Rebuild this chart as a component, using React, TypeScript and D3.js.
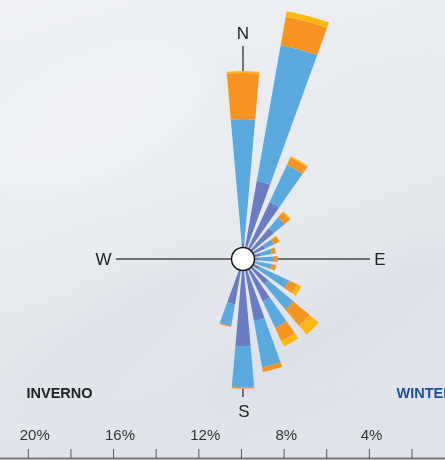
import React from "react";
import * as d3 from "d3";

// Wind rose data (% frequency), 24 directions every 15°
const directions = [0, 15, 30, 45, 60, 75, 90, 105, 120, 135, 150, 165, 180, 195, 210, 225, 240, 255, 270, 285, 300, 315, 330, 345];
const speedClass1 = [0.75, 3.71, 2.95, 1.88, 1.13, 0.84, 0.75, 0.61, 0.84, 1.55, 2.2, 2.95, 4.08, 2.16, 0, 0, 0, 0, 0, 0, 0, 0, 0, 0];
const speedClass2 = [5.82, 6.47, 1.92, 0.66, 0.47, 0.54, 0.66, 0.75, 1.55, 1.55, 1.36, 2.2, 1.94, 1.03, 0, 0, 0, 0, 0, 0, 0, 0, 0, 0];
const speedClass3 = [2.16, 1.36, 0.38, 0.33, 0.28, 0.19, 0.23, 0.23, 0.42, 0.98, 0.68, 0.23, 0.06, 0.05, 0, 0, 0, 0, 0, 0, 0, 0, 0, 0];
const speedClass4 = [0.09, 0.26, 0.07, 0.05, 0.02, 0, 0, 0, 0.21, 0.56, 0.3, 0, 0, 0, 0, 0, 0, 0, 0, 0, 0, 0, 0, 0];
const seriesKeys = ["c1", "c2", "c3", "c4"];
const seriesColors = ["#6a7cc2", "#5aaae0", "#f6941f", "#fdb813"];

const axisTicks = [20, 18, 16, 14, 12, 10, 8, 6, 4, 2];
const axisLabels = [20, 16, 12, 8, 4];
const compassLabels = ["N", "E", "S", "W"];

const W = 445;
const H = 460;
const cx = 243;
const cy = 259;
const pxPerPct = 21.32;

export default function App() {
  const rows = directions.map((d, i) => ({
    dir: d,
    c1: speedClass1[i],
    c2: speedClass2[i],
    c3: speedClass3[i],
    c4: speedClass4[i],
  }));
  const stacked = d3.stack<any>().keys(seriesKeys)(rows);
  const r = d3.scaleLinear().domain([0, 12]).range([0, 12 * pxPerPct]);
  const halfW = (10 / 2) * (Math.PI / 180);
  const arc = d3.arc<any>();

  // bottom axis: 0% at right
  const x = d3.scaleLinear().domain([20, 2]).range([28.3, 412]);
  const axisY = 458.5;

  return (
    <svg
      width={W}
      height={H}
      style={{ position: "absolute", left: 0, top: 0, display: "block" }}
      fontFamily="'Liberation Sans', Arial, sans-serif"
    >
      <defs>
        <linearGradient id="bg" x1="0" y1="0" x2="0.3" y2="1">
          <stop offset="0" stopColor="#eef0f3" />
          <stop offset="0.5" stopColor="#e8ebef" />
          <stop offset="1" stopColor="#e0e4ea" />
        </linearGradient>
        <filter id="blur" x="-50%" y="-50%" width="200%" height="200%">
          <feGaussianBlur stdDeviation="14" />
        </filter>
      </defs>
      <rect x={0} y={0} width={W} height={H} fill="url(#bg)" />
      <g filter="url(#blur)" opacity={0.55}>
        <ellipse cx={90} cy={120} rx={120} ry={60} fill="#f4f5f7" transform="rotate(-25 90 120)" />
        <ellipse cx={330} cy={330} rx={140} ry={30} fill="#d9dee6" transform="rotate(-30 330 330)" />
        <ellipse cx={120} cy={330} rx={120} ry={25} fill="#dde1e8" transform="rotate(-35 120 330)" />
        <ellipse cx={360} cy={110} rx={90} ry={40} fill="#e6e9ee" transform="rotate(-30 360 110)" />
      </g>

      {/* W-E line */}
      <line x1={116} x2={370} y1={cy} y2={cy} stroke="#6e6e6e" strokeWidth={2} />
      {/* N and S ticks */}
      <line x1={cx} x2={cx} y1={46} y2={cy - r(8.8)} stroke="#222" strokeWidth={1.2} />
      <line x1={cx} x2={cx} y1={cy + r(6.1)} y2={397} stroke="#222" strokeWidth={1.2} />

      {/* rose bars */}
      <g transform={`translate(${cx},${cy})`}>
        {stacked.map((layer, li) => (
          <g key={layer.key} fill={seriesColors[li]}>
            {layer.map((seg: any, i: number) => {
              const a = (seg.data.dir * Math.PI) / 180;
              if (seg[1] - seg[0] <= 0) return null;
              return (
                <path
                  key={i}
                  d={
                    arc({
                      innerRadius: r(seg[0]),
                      outerRadius: r(seg[1]),
                      startAngle: a - halfW,
                      endAngle: a + halfW,
                    }) as string
                  }
                />
              );
            })}
          </g>
        ))}
      </g>

      <circle cx={cx} cy={cy} r={11.5} fill="#fff" stroke="#1a1a1a" strokeWidth={1.5} />

      {/* compass labels */}
      <g fontSize={17} fill="#222" textAnchor="middle" dominantBaseline="central">
        <text x={cx} y={33}>{compassLabels[0]}</text>
        <text x={380} y={259}>{compassLabels[1]}</text>
        <text x={cx + 1} y={411}>{compassLabels[2]}</text>
        <text x={103.5} y={259}>{compassLabels[3]}</text>
      </g>

      <text x={26.5} y={398} fontSize={14.5} fontWeight="bold" fill="#222">INVERNO</text>
      <text x={396.5} y={398} fontSize={14.5} fontWeight="bold" fill="#1f4e9f">WINTER</text>

      {/* bottom axis */}
      <line x1={0} x2={W} y1={axisY} y2={axisY} stroke="#7a7a7a" strokeWidth={2} />
      {axisTicks.map((t) => (
        <line key={t} x1={x(t)} x2={x(t)} y1={449} y2={axisY} stroke="#555" strokeWidth={1} />
      ))}
      {axisLabels.map((t) => (
        <text key={t} x={x(t) - 8.6} y={439.5} fontSize={15} fill="#333">
          {t}%
        </text>
      ))}
    </svg>
  );
}
